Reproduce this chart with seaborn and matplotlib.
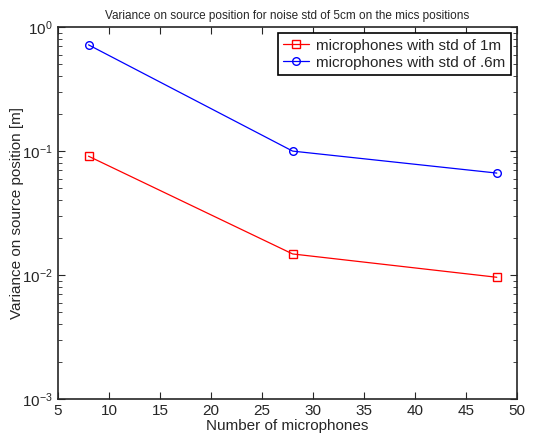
import numpy as np
import pandas as pd
import matplotlib
matplotlib.use('Agg')
import matplotlib.pyplot as plt
import seaborn as sns

# data
n_mics = [8, 28, 48]
var_std_1m = [0.091, 0.0148, 0.0096]
var_std_06m = [0.72, 0.100, 0.0665]
labels = ['microphones with std of 1m', 'microphones with std of .6m']

df = pd.DataFrame({
    'n': n_mics * 2,
    'var': var_std_1m + var_std_06m,
    'series': [labels[0]] * 3 + [labels[1]] * 3,
})

sns.set_style('ticks')
plt.rcParams['font.family'] = ['Liberation Sans', 'DejaVu Sans']
plt.rcParams['mathtext.fontset'] = 'custom'
plt.rcParams['mathtext.rm'] = 'Liberation Sans'

fig = plt.figure(figsize=(5.41, 4.38), dpi=100)
ax = fig.add_axes([0.107, 0.089, 0.849, 0.849])

sns.lineplot(data=df, x='n', y='var', hue='series', style='series',
             palette={labels[0]: 'red', labels[1]: 'blue'},
             markers={labels[0]: 's', labels[1]: 'o'},
             dashes=False, linewidth=0.9, markersize=5.5,
             markerfacecolor='none', markeredgewidth=1.0, ax=ax)
# seaborn overrides marker edge colour; fix per line
for line, c in zip(ax.get_lines()[:2], ['red', 'blue']):
    line.set_markeredgecolor(c)
    line.set_markerfacecolor('none')

ax.set_yscale('log')
ax.set_xlim(5, 50)
ax.set_ylim(1e-3, 1e0)
ax.set_xticks(range(5, 51, 5))
ax.tick_params(which='both', direction='in', top=True, right=True, labelsize=11)
ax.tick_params(which='major', length=5)
ax.tick_params(which='minor', length=3)
for s in ax.spines.values():
    s.set_linewidth(1.2)
    s.set_visible(True)

ax.set_xlabel('Number of microphones', fontsize=11, labelpad=1)
ax.set_ylabel('Variance on source position [m]', fontsize=11, labelpad=-1)
ax.set_title('Variance on source position for noise std of 5cm on the mics positions', fontsize=8.5)

h, l = ax.get_legend_handles_labels()
for hh, c in zip(h, ['red', 'blue']):
    hh.set_markeredgecolor(c)
    hh.set_markerfacecolor('none')
leg = ax.legend(h, l, loc='upper right', fontsize=11, fancybox=False,
                edgecolor='black', framealpha=1, borderpad=0.35,
                handlelength=1.7, handletextpad=0.5,
                labelspacing=0.2, borderaxespad=0.4)
leg.get_frame().set_linewidth(1.2)

fig.savefig('out.png', dpi=100)
